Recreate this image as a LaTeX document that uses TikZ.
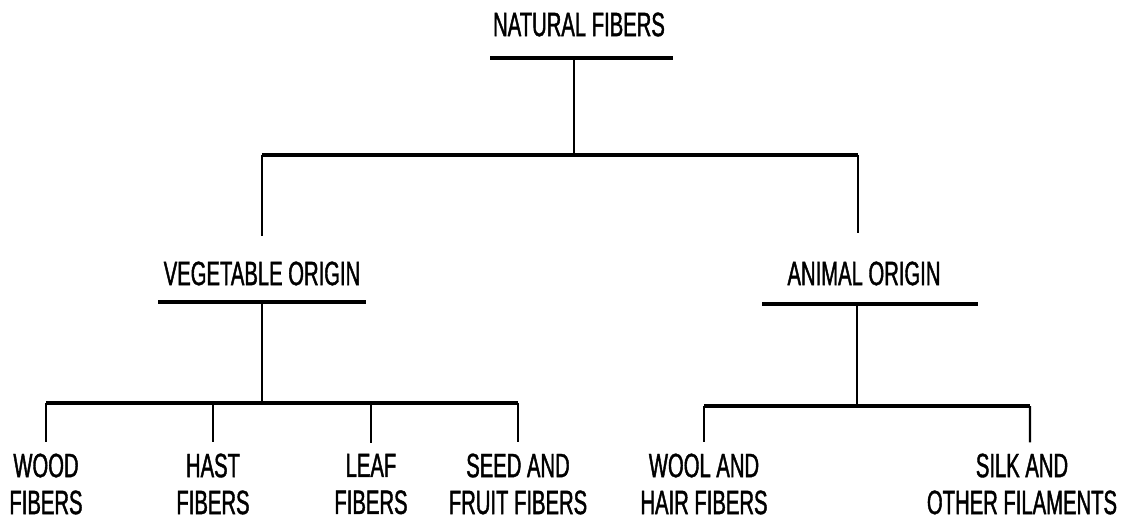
\documentclass[tikz,border=0pt]{standalone}
\usepackage{fontspec}
\setmainfont[FakeStretch=0.6,FakeBold=1.2]{Liberation Sans}

\begin{document}
\begin{tikzpicture}[
    lbl/.style={inner sep=0pt, align=center, font=\fontsize{9.6}{10.5}\selectfont},
    rule/.style={line width=1pt},
    stem/.style={line width=0.65pt}]
    \useasboundingbox (0,0) rectangle (11.23,5.22);

    % headings
    \node[lbl] (nat) at (5.79,4.975) {NATURAL FIBERS};
    \node[lbl] (veg) at (2.62,2.485) {VEGETABLE ORIGIN};
    \node[lbl] (ani) at (8.64,2.485) {ANIMAL ORIGIN};

    % fiber groups
    \node[lbl] (wood) at (0.46,0.38) {WOOD\\FIBERS};
    \node[lbl] (hast) at (2.13,0.38) {HAST\\FIBERS};
    \node[lbl] (leaf) at (3.71,0.38) {LEAF\\FIBERS};
    \node[lbl] (seed) at (5.18,0.38) {SEED AND\\FRUIT FIBERS};
    \node[lbl] (wool) at (7.04,0.38) {WOOL AND\\HAIR FIBERS};
    \node[lbl] (silk) at (10.22,0.38) {SILK AND\\OTHER FILAMENTS};

    % underlines
    \coordinate (natJ) at (5.74,4.64);
    \coordinate (vegJ) at (2.62,2.20);
    \coordinate (aniJ) at (8.57,2.18);
    \draw[rule] (4.90,4.64) -- (6.73,4.64);
    \draw[rule] (1.58,2.20) -- (3.66,2.20);
    \draw[rule] (7.62,2.18) -- (9.78,2.18);

    % first split
    \coordinate (topL) at (2.62,3.67);
    \coordinate (topR) at (8.58,3.67);
    \draw[stem] (natJ) -- (natJ |- topL);
    \draw[rule] (topL) -- (topR);
    \draw[stem] (topL) -- ([yshift=7pt]veg.north -| topL);
    \draw[stem] (topR) -- ([yshift=8pt]ani.north -| topR);

    % vegetable branch
    \coordinate (lbar) at (0,1.19);
    \draw[stem] (vegJ) -- (vegJ |- lbar);
    \draw[rule] (wood.north |- lbar) -- (seed.north |- lbar);
    \foreach \n in {wood,hast,leaf,seed}
        \draw[stem] (\n.north |- lbar) -- ([yshift=3pt]\n.north);

    % animal branch
    \coordinate (rbar) at (0,1.16);
    \coordinate (silkJ) at (10.30,1.16);
    \draw[stem] (aniJ) -- (aniJ |- rbar);
    \draw[rule] (wool.north |- rbar) -- (silkJ);
    \draw[stem] (wool.north |- rbar) -- ([yshift=3pt]wool.north);
    \draw[stem] (silkJ) -- ([xshift=0.08cm,yshift=3pt]silk.north);
\end{tikzpicture}
\end{document}
